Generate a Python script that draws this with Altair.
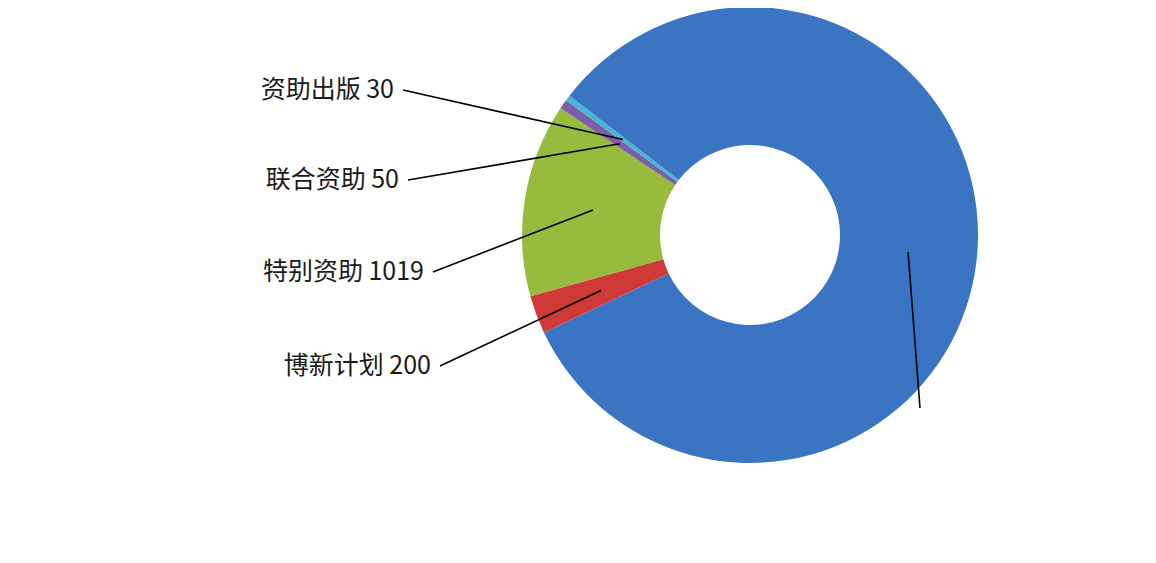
import math
import altair as alt
import pandas as pd

# ---- data ----
categories = ["面上资助", "博新计划", "特别资助", "联合资助", "资助出版"]
values = [6130, 200, 1019, 50, 30]
show_label = [False, True, True, True, True]

# ---- style / layout ----
colors = ["#3A74C2", "#CF3A38", "#97BC3D", "#7C5EA8", "#46B6D6"]
CX, CY = 742, 227            # donut centre inside the view (px)
R_OUT, R_IN = 228, 90
R_MID = (R_OUT + R_IN) / 2   # where leader lines start
START_DEG = 307.65           # first-slice angle
# label anchors (end of each leader line), px in view, same order as categories
anchor_x = [912, 432, 425, 400, 395]
anchor_y = [400, 358, 264, 172, 82]
TEXT_GAP = 9

df = pd.DataFrame({
    "category": categories,
    "value": values,
    "order": list(range(len(categories))),
    "show": show_label,
    "ax": anchor_x,
    "ay": anchor_y,
})
df["label"] = [f"{c} {v}" for c, v in zip(categories, values)]
df["tx"] = df["ax"] - TEXT_GAP

a0 = math.radians(START_DEG)

donut = alt.Chart(df).mark_arc(radius=R_OUT, radius2=R_IN).encode(
    theta=alt.Theta("value:Q", stack=True,
                    scale=alt.Scale(range=[a0, a0 + 2 * math.pi])),
    order=alt.Order("order:Q"),
    color=alt.Color("category:N",
                    scale=alt.Scale(domain=categories, range=colors),
                    legend=None),
    x=alt.value(CX),
    y=alt.value(CY),
)

base = alt.Chart(df).transform_window(
    cum="sum(value)", sort=[alt.SortField("order")], frame=[None, 0]
).transform_joinaggregate(
    total="sum(value)"
).transform_calculate(
    mid=f"{a0} + (datum.cum - datum.value / 2) / datum.total * 2 * PI",
).transform_calculate(
    px=f"{CX} + {R_MID} * sin(datum.mid)",
    py=f"{CY} - {R_MID} * cos(datum.mid)",
)

leaders = base.mark_rule(color="#000000", strokeWidth=1.6).encode(
    x=alt.X("px:Q", scale=None, axis=None),
    y=alt.Y("py:Q", scale=None, axis=None),
    x2="ax:Q",
    y2="ay:Q",
)

labels = alt.Chart(df).transform_filter("datum.show").mark_text(
    align="right", baseline="middle", fontSize=25,
    font="Noto Sans CJK SC", color="#1a1a1a",
).encode(
    x=alt.X("tx:Q", scale=None, axis=None),
    y=alt.Y("ay:Q", scale=None, axis=None),
    text="label:N",
)

chart = alt.layer(donut, leaders, labels).properties(
    width=1140, height=547, autosize="none", padding=0,
).configure_view(stroke=None)

chart.save("out.html", embed_options={"renderer": "svg", "actions": False})
